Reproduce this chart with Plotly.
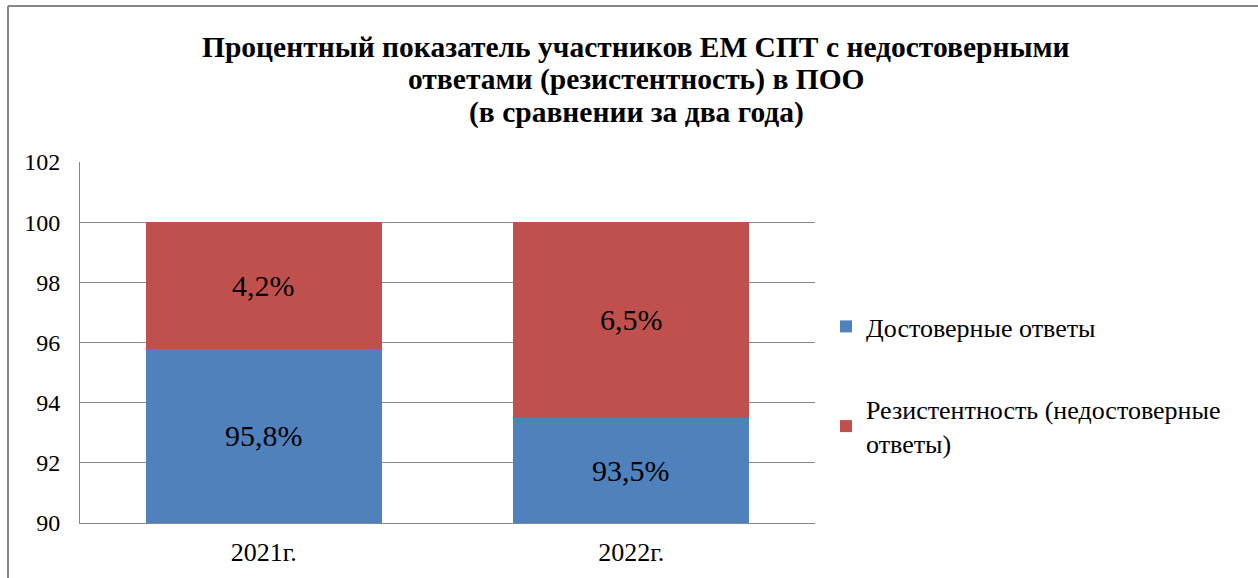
import plotly.graph_objects as go

# Share of respondents by answer reliability, two survey years
years = ["2021г.", "2022г."]
reliable = [95.8, 93.5]      # Достоверные ответы
resistant = [4.2, 6.5]       # Резистентность (недостоверные ответы)

y_ticks = [90, 92, 94, 96, 98, 100, 102]
y_min, y_max = 90, 102

BLUE = "#4F81BD"
RED = "#C0504D"
GRID = "#868686"
FONT = "Liberation Serif"

W, H = 1258, 578
L, R, T, B = 80, 443, 162, 55


def label(v):
    return f"{v:.1f}".replace(".", ",") + "%"


def serif(size, **kw):
    return dict(family=FONT, size=size, **kw)


fig = go.Figure()
fig.add_trace(go.Bar(
    x=years, y=reliable, name="Достоверные ответы",
    marker=dict(color=BLUE, line=dict(width=0)),
    legendgroup="reliable", hoverinfo="skip",
))
fig.add_trace(go.Bar(
    x=years, y=resistant, name="Резистентность (недостоверные<br>ответы)",
    marker=dict(color=RED, line=dict(width=0)),
    legendgroup="resistant", hoverinfo="skip",
))

pw = W - L - R
ph = H - T - B


def px_x(p):
    return (p - L) / pw


def px_y(p):
    return (H - B - p) / ph


# value labels centred on the visible part of each segment
annotations = []
for yr, lo_v, hi_v in zip(years, reliable, resistant):
    seg_lo = (max(y_min, 0) + lo_v) / 2
    seg_hi = lo_v + hi_v / 2
    for yy, v in ((seg_lo, lo_v), (seg_hi, hi_v)):
        annotations.append(dict(
            x=yr, y=yy, xref="x", yref="y", text=label(v), showarrow=False,
            font=serif(30, color="black"),
        ))

# three-line bold heading
title_lines = [
    "Процентный показатель участников ЕМ СПТ с недостоверными",
    "ответами (резистентность) в ПОО",
    "(в сравнении за два года)",
]
for i, line in enumerate(title_lines):
    annotations.append(dict(
        x=px_x(636), y=px_y(47 + 33 * i), xref="paper", yref="paper",
        xanchor="center", yanchor="middle", text="<b>" + line + "</b>",
        showarrow=False, font=serif(29.5, color="black"),
    ))

# outer frame (left and top edges)
frame = dict(type="line", xref="paper", yref="paper",
             line=dict(color=GRID, width=2))
shapes = [
    dict(frame, x0=px_x(8), x1=px_x(8), y0=px_y(H + 5), y1=px_y(6)),
    dict(frame, x0=px_x(8), x1=px_x(W + 5), y0=px_y(6), y1=px_y(6)),
]

fig.update_layout(
    width=W, height=H,
    margin=dict(l=L, r=R, t=T, b=B),
    barmode="stack", bargap=0.357,
    plot_bgcolor="white", paper_bgcolor="white",
    xaxis=dict(showline=True, linecolor=GRID, linewidth=1, ticks="",
               tickfont=serif(26, color="black"), ticklabelstandoff=6),
    yaxis=dict(range=[y_min, y_max], tickvals=y_ticks, showgrid=True,
               gridcolor=GRID, gridwidth=1, showline=True, linecolor=GRID,
               linewidth=1, ticks="", zeroline=False,
               tickfont=serif(24, color="black"), ticklabelstandoff=14),
    legend=dict(x=px_x(826), xanchor="left", y=px_y(303), yanchor="top",
                traceorder="grouped", tracegroupgap=46,
                font=serif(26, color="black"), bgcolor="rgba(0,0,0,0)"),
    annotations=annotations,
    shapes=shapes,
)

fig.write_html("out.html")
